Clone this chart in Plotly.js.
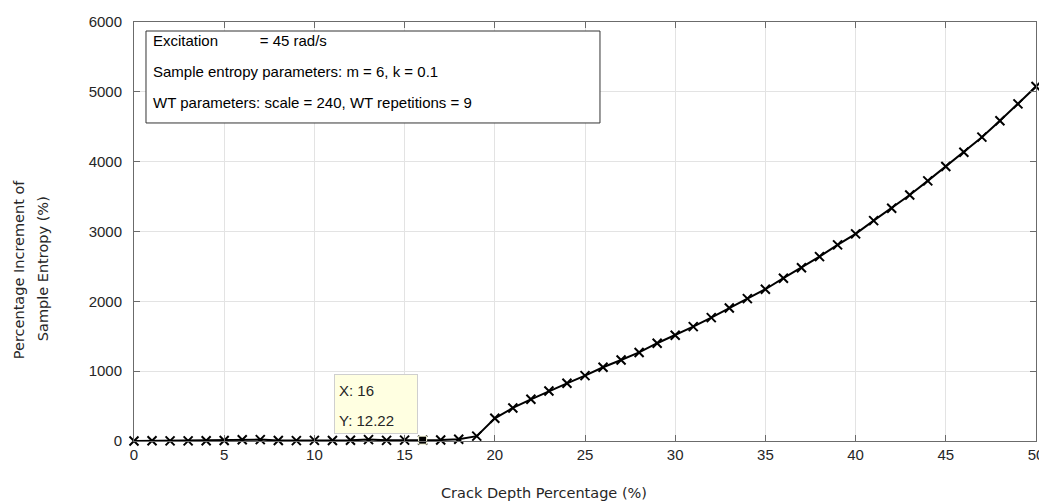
<!DOCTYPE html>
<html>
<head>
<meta charset="utf-8">
<script src="https://cdn.plot.ly/plotly-3.0.1.min.js"></script>
<style>html,body{margin:0;padding:0;background:#fff;}#chart{width:1039px;height:504px;}</style>
</head>
<body>
<div id="chart"></div>
<script>
// Crack depth percentage (%)
const crackDepth = [0,1,2,3,4,5,6,7,8,9,10,11,12,13,14,15,16,17,18,19,20,21,22,23,24,25,26,27,28,29,30,31,32,33,34,35,36,37,38,39,40,41,42,43,44,45,46,47,48,49,50];
// Percentage increment of sample entropy (%)
const entropyIncrement = [0,3,2,2,3,8,18,20,6,5,9,8,10,20,9,12,12.22,15,24,70,
  325,473,597,716,826,936,1056,1160,1268,1400,1514,1638,1767,1905,2039,2173,2331,2482,2640,2808,2966,3156,3333,3522,3725,3930,4136,4351,4585,4828,5076];
// Data tip
const tipX = [16];
const tipY = [12.22];
const tipLabel = ['X: 16', 'Y: 12.22'];
// Info box lines
const infoLines = [
  'Excitation\u00a0\u00a0\u00a0\u00a0\u00a0\u00a0\u00a0\u00a0\u00a0\u00a0= 45 rad/s',
  'Sample entropy parameters: m = 6, k = 0.1',
  'WT parameters: scale = 240, WT repetitions = 9'
];
const yTitleLines = ['Percentage Increment of', 'Sample Entropy (%)'];
const xTitle = 'Crack Depth Percentage (%)';
const xTicks = [0,5,10,15,20,25,30,35,40,45,50];
const yTicks = [0,1000,2000,3000,4000,5000,6000];

const textColor = '#262626';
const axisColor = '#6b6b6b';
const gridColor = '#e3e3e3';
const labelFont = 'Liberation Sans, Arial, sans-serif';
const titleFont = 'DejaVu Sans, Verdana, sans-serif';

const traces = [
  {
    x: crackDepth, y: entropyIncrement, type: 'scatter', mode: 'lines+markers',
    line: {color: '#000', width: 2}, cliponaxis: false,
    marker: {symbol: 'x-thin', size: 9, color: '#000', line: {color: '#000', width: 2}},
    hoverinfo: 'skip'
  },
  {
    x: tipX, y: tipY, type: 'scatter', mode: 'markers', cliponaxis: false,
    marker: {symbol: 'square', size: 8, color: '#000', line: {color: '#ffffe1', width: 1}},
    hoverinfo: 'skip'
  }
];

const annotations = [
  {
    xref: 'x', yref: 'y', x: tipX[0], y: tipY[0], text: ' ',
    showarrow: false, xanchor: 'right', yanchor: 'bottom', xshift: -5, yshift: 6,
    width: 78, height: 54,
    bgcolor: '#ffffe1', bordercolor: '#cfcfcf', borderwidth: 1, borderpad: 2,
    font: {family: labelFont, size: 15, color: textColor}
  },
  {
    xref: 'x', yref: 'y', x: tipX[0], y: tipY[0], text: tipLabel[0],
    showarrow: false, xanchor: 'left', yanchor: 'middle', xshift: -86, yshift: 50,
    font: {family: labelFont, size: 15, color: textColor}
  },
  {
    xref: 'x', yref: 'y', x: tipX[0], y: tipY[0], text: tipLabel[1],
    showarrow: false, xanchor: 'left', yanchor: 'middle', xshift: -86, yshift: 20,
    font: {family: labelFont, size: 15, color: textColor}
  },
  {
    xref: 'paper', yref: 'paper', x: 0.455, y: -0.125,
    text: xTitle, showarrow: false, xanchor: 'center', yanchor: 'middle',
    font: {family: titleFont, size: 14.5, color: textColor}
  },
  {
    xref: 'paper', yref: 'paper', x: 0, y: 0.41, xshift: -115,
    text: yTitleLines[0], showarrow: false, textangle: -90, xanchor: 'center', yanchor: 'middle',
    font: {family: titleFont, size: 14.5, color: textColor}
  },
  {
    xref: 'paper', yref: 'paper', x: 0, y: 0.41, xshift: -91,
    text: yTitleLines[1], showarrow: false, textangle: -90, xanchor: 'center', yanchor: 'middle',
    font: {family: titleFont, size: 14.5, color: textColor}
  }
];
const infoY = [0.957, 0.881, 0.807];
infoLines.forEach((t, i) => {
  annotations.push({
    xref: 'paper', yref: 'paper', x: 0.0188, y: infoY[i], text: t, showarrow: false,
    xanchor: 'left', yanchor: 'middle',
    font: {family: labelFont, size: 15, color: '#000'}
  });
});

const layout = {
  width: 1039, height: 504,
  margin: {l: 134, r: 3, t: 22, b: 63},
  paper_bgcolor: '#fff', plot_bgcolor: '#fff',
  showlegend: false,
  xaxis: {
    range: [0, 50], tickvals: xTicks, ticktext: xTicks.map(String),
    showgrid: true, gridcolor: gridColor, gridwidth: 1,
    zeroline: false, showline: true, linecolor: axisColor, linewidth: 1, mirror: 'ticks',
    ticks: 'inside', ticklen: 6, tickcolor: axisColor, ticklabeloverflow: 'allow',
    tickfont: {family: labelFont, size: 15, color: textColor}
  },
  yaxis: {
    range: [0, 6000], tickvals: yTicks, ticktext: yTicks.map(String),
    showgrid: true, gridcolor: gridColor, gridwidth: 1,
    zeroline: false, showline: true, linecolor: axisColor, linewidth: 1, mirror: 'ticks',
    ticks: 'inside', ticklen: 6, tickcolor: axisColor, ticklabelstandoff: 8,
    tickfont: {family: labelFont, size: 15, color: textColor}
  },
  shapes: [
    {type: 'rect', xref: 'paper', yref: 'paper', x0: 0.0133, x1: 0.5166, y0: 0.759, y1: 0.9785,
     fillcolor: '#fff', line: {color: '#333', width: 1}, layer: 'above'}
  ],
  annotations: annotations
};

Plotly.newPlot('chart', traces, layout, {staticPlot: true, displayModeBar: false});
</script>
</body>
</html>
